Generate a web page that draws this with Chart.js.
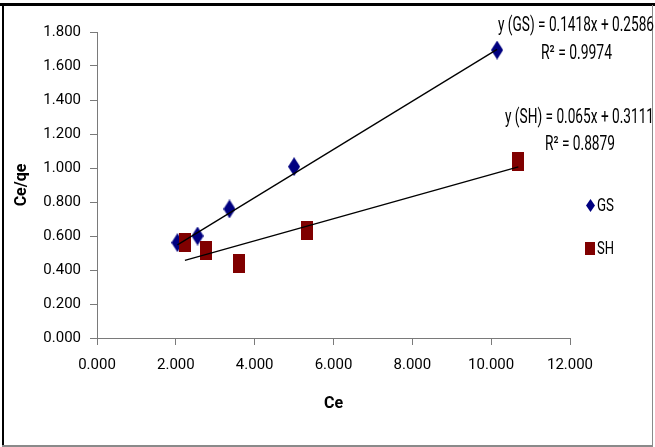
<!DOCTYPE html>
<html>
<head>
<meta charset="utf-8">
<script src="https://cdn.jsdelivr.net/npm/chart.js@4.4.1/dist/chart.umd.min.js"></script>
<style>
  html, body { margin: 0; padding: 0; background: #fff; }
  #wrap { width: 655px; height: 447px; position: relative; }
</style>
</head>
<body>
<div id="wrap"><canvas id="myChart" width="655" height="447"></canvas></div>
<script>
// GS series (Ce, Ce/qe)
const gsCe = [2.04, 2.55, 3.36, 5.00, 10.15];
const gsCeQe = [0.561, 0.600, 0.759, 1.008, 1.694];
// SH series
const shCe = [2.23, 2.77, 3.59, 5.33, 10.69];
const shCeQe = [0.560, 0.514, 0.439, 0.635, 1.041];
// trendlines from the picture
const gsSlope = 0.1418, gsIntercept = 0.2586;
const shSlope = 0.065, shIntercept = 0.3111;
const gsLabels = ["y (GS) = 0.1418x + 0.2586", "R² = 0.9974"];
const shLabels = ["y (SH) = 0.065x + 0.3111", "R² = 0.8879"];
const seriesNames = ["GS", "SH"];
const xTicks = [0, 2, 4, 6, 8, 10, 12];

const FONT = "'Liberation Sans Narrow', Roboto, sans-serif";

function makeMarker(shape, w, h, fill) {
  const c = document.createElement("canvas");
  c.width = w;
  c.height = h;
  const ctx = c.getContext("2d");
  ctx.fillStyle = fill;
  ctx.beginPath();
  if (shape === "diamond") {
    ctx.moveTo(w / 2, 0);
    ctx.lineTo(w, h / 2);
    ctx.lineTo(w / 2, h);
    ctx.lineTo(0, h / 2);
    ctx.closePath();
    ctx.fill();
  } else {
    ctx.fillRect(0, 0, w, h);
  }
  return c;
}

const gsMarker = makeMarker("diamond", 12, 19, "#000080");
const shMarker = makeMarker("square", 12, 19, "#800000");
const gsLegendMarker = makeMarker("diamond", 9, 13, "#000080");
const shLegendMarker = makeMarker("square", 10, 13, "#800000");

function toPoints(xs, ys) {
  return xs.map((x, i) => ({ x: x, y: ys[i] }));
}

function trend(xs, slope, intercept) {
  const lo = Math.min(...xs), hi = Math.max(...xs);
  return [{ x: lo, y: slope * lo + intercept }, { x: hi, y: slope * hi + intercept }];
}

// text squeezed to a given width (the original font is a narrow one)
function narrowText(ctx, text, left, y, width) {
  const w = ctx.measureText(text).width;
  const k = Math.min(1, width / w);
  ctx.save();
  ctx.translate(left, y);
  ctx.scale(k, 1);
  ctx.fillText(text, 0, 0);
  ctx.restore();
}

// border, legend and equations
const extras = {
  id: "extras",
  afterDraw(chart) {
    const ctx = chart.ctx;
    ctx.save();
    // frame
    ctx.fillStyle = "#000";
    ctx.fillRect(0, 3, 655, 3);
    ctx.fillRect(2, 3, 2, 444);
    ctx.fillStyle = "#8a8a8a";
    ctx.fillRect(652, 5, 1, 442);
    ctx.fillRect(2, 445, 651, 2);

    ctx.fillStyle = "#000";
    ctx.font = "20px " + FONT;
    ctx.textBaseline = "middle";
    ctx.textAlign = "left";
    narrowText(ctx, gsLabels[0], 498, 26, 156);
    narrowText(ctx, gsLabels[1], 541, 54, 71);
    narrowText(ctx, shLabels[0], 505, 118, 149);
    narrowText(ctx, shLabels[1], 545, 145, 70);

    // legend
    ctx.font = "18px " + FONT;
    ctx.drawImage(gsLegendMarker, 586, 199);
    ctx.drawImage(shLegendMarker, 585, 242);
    narrowText(ctx, seriesNames[0], 597, 206, 17);
    narrowText(ctx, seriesNames[1], 597, 249, 17);
    ctx.restore();
  }
};

new Chart(document.getElementById("myChart"), {
  type: "scatter",
  data: {
    datasets: [
      {
        label: "GS trend",
        type: "line",
        data: trend(gsCe, gsSlope, gsIntercept),
        borderColor: "#000",
        borderWidth: 1.3,
        pointRadius: 0,
        order: 0
      },
      {
        label: "SH trend",
        type: "line",
        data: trend(shCe, shSlope, shIntercept),
        borderColor: "#000",
        borderWidth: 1.3,
        pointRadius: 0,
        order: 0
      },
      {
        label: seriesNames[0],
        data: toPoints(gsCe, gsCeQe),
        pointStyle: gsMarker,
        order: 2
      },
      {
        label: seriesNames[1],
        data: toPoints(shCe, shCeQe),
        pointStyle: shMarker,
        order: 1
      }
    ]
  },
  options: {
    responsive: false,
    devicePixelRatio: 1,
    animation: false,
    layout: { padding: { left: 0, right: 85, top: 32, bottom: 0 } },
    plugins: {
      legend: { display: false },
      tooltip: { enabled: false }
    },
    scales: {
      x: {
        type: "linear",
        min: 0,
        max: 12,
        afterBuildTicks: (scale) => { scale.ticks = xTicks.map(v => ({ value: v })); },
        afterFit: (scale) => { scale.height = 109; },
        grid: { drawOnChartArea: false, drawTicks: true, tickLength: 7, color: "#7a7a7a" },
        border: { color: "#7a7a7a", width: 1 },
        ticks: {
          padding: 11,
          color: "#000",
          font: { family: FONT, size: 15 },
          maxRotation: 0,
          callback: (v) => Number(v).toFixed(3)
        },
        title: {
          display: true,
          text: "Ce",
          color: "#000",
          font: { family: FONT, size: 16, weight: "bold" },
          padding: { top: 0, bottom: 33 }
        }
      },
      y: {
        type: "linear",
        min: 0,
        max: 1.8,
        afterFit: (scale) => { scale.width = 97; },
        grid: { drawOnChartArea: false, drawTicks: true, tickLength: 7, color: "#7a7a7a" },
        border: { color: "#7a7a7a", width: 1 },
        ticks: {
          stepSize: 0.2,
          padding: 9,
          color: "#000",
          font: { family: FONT, size: 15 },
          callback: (v) => Number(v).toFixed(3)
        },
        title: {
          display: true,
          text: "Ce/qe",
          color: "#000",
          font: { family: FONT, size: 16, weight: "bold" },
          padding: { top: 12, bottom: 0 }
        }
      }
    }
  },
  plugins: [extras]
});
</script>
</body>
</html>
